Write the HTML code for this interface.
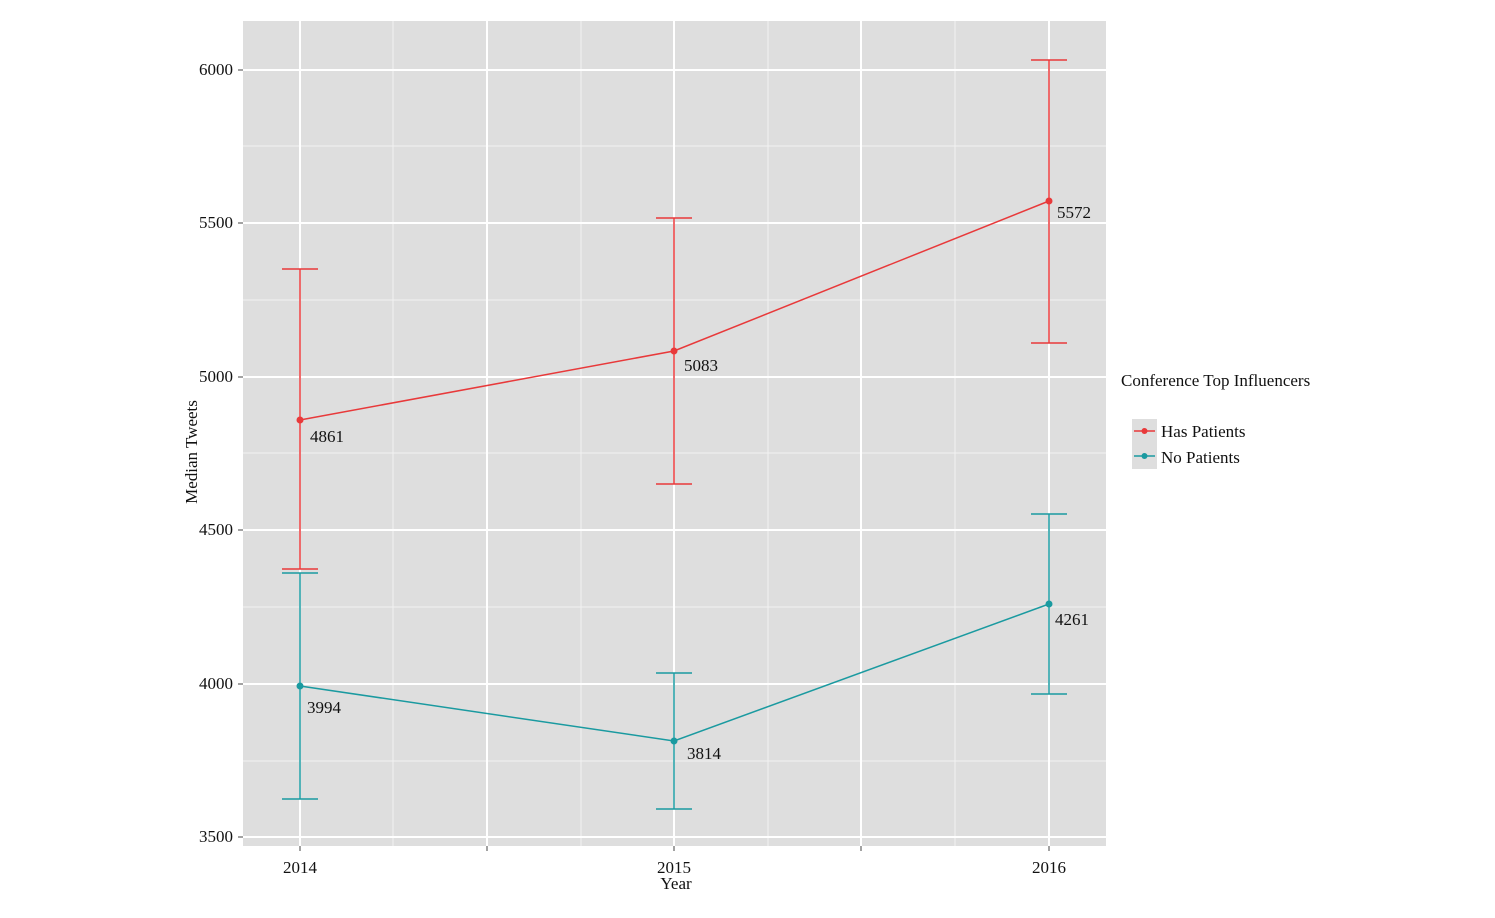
<!DOCTYPE html>
<html><head><meta charset="utf-8"><style>body{margin:0;background:#fff}</style></head><body>
<svg width="1495" height="913" xmlns="http://www.w3.org/2000/svg" font-family="Liberation Serif, serif">
<rect x="243" y="21" width="863" height="825" fill="#dedede"/>
<g stroke="#f2f2f2" stroke-width="1">
<line x1="243" x2="1106" y1="146" y2="146"/><line x1="243" x2="1106" y1="300" y2="300"/><line x1="243" x2="1106" y1="453" y2="453"/><line x1="243" x2="1106" y1="607" y2="607"/><line x1="243" x2="1106" y1="761" y2="761"/>
<line y1="21" y2="846" x1="393" x2="393"/><line y1="21" y2="846" x1="581" x2="581"/><line y1="21" y2="846" x1="768" x2="768"/><line y1="21" y2="846" x1="955" x2="955"/>
</g>
<g stroke="#fff" stroke-width="2">
<line x1="243" x2="1106" y1="70" y2="70"/><line x1="243" x2="1106" y1="223" y2="223"/><line x1="243" x2="1106" y1="377" y2="377"/><line x1="243" x2="1106" y1="530" y2="530"/><line x1="243" x2="1106" y1="684" y2="684"/><line x1="243" x2="1106" y1="837" y2="837"/>
<line y1="21" y2="846" x1="300" x2="300"/><line y1="21" y2="846" x1="487" x2="487"/><line y1="21" y2="846" x1="674" x2="674"/><line y1="21" y2="846" x1="861" x2="861"/><line y1="21" y2="846" x1="1049" x2="1049"/>
</g>
<g stroke="#444" stroke-width="1">
<line x1="238" x2="243" y1="70" y2="70"/><line x1="238" x2="243" y1="223" y2="223"/><line x1="238" x2="243" y1="377" y2="377"/><line x1="238" x2="243" y1="530" y2="530"/><line x1="238" x2="243" y1="684" y2="684"/><line x1="238" x2="243" y1="837" y2="837"/>
<line y1="846" y2="851" x1="300" x2="300"/><line y1="846" y2="851" x1="487" x2="487"/><line y1="846" y2="851" x1="674" x2="674"/><line y1="846" y2="851" x1="861" x2="861"/><line y1="846" y2="851" x1="1049" x2="1049"/>
</g>
<g font-size="17" fill="#111" text-anchor="end">
<text x="233" y="75">6000</text><text x="233" y="228">5500</text><text x="233" y="382">5000</text><text x="233" y="535">4500</text><text x="233" y="689">4000</text><text x="233" y="842">3500</text>
</g>
<g font-size="17" fill="#111" text-anchor="middle">
<text x="300" y="873">2014</text><text x="674" y="873">2015</text><text x="1049" y="873">2016</text>
<text x="676" y="889">Year</text>
<text transform="translate(197,452) rotate(-90)">Median Tweets</text>
</g>
<g stroke="#e8393a" stroke-width="1.5" fill="none">
<path d="M300 269V569M282 269H318M282 569H318"/>
<path d="M674 218V484M656 218H692M656 484H692"/>
<path d="M1049 60V343M1031 60H1067M1031 343H1067"/>
<polyline points="300,420 674,351 1049,201"/>
</g>
<g fill="#e8393a"><circle cx="300" cy="420" r="3.5"/><circle cx="674" cy="351" r="3.5"/><circle cx="1049" cy="201" r="3.5"/></g>
<g stroke="#1a9aa0" stroke-width="1.5" fill="none">
<path d="M300 573V799M282 573H318M282 799H318"/>
<path d="M674 673V809M656 673H692M656 809H692"/>
<path d="M1049 514V694M1031 514H1067M1031 694H1067"/>
<polyline points="300,686 674,741 1049,604"/>
</g>
<g fill="#1a9aa0"><circle cx="300" cy="686" r="3.5"/><circle cx="674" cy="741" r="3.5"/><circle cx="1049" cy="604" r="3.5"/></g>
<g font-size="17" fill="#111">
<text x="310" y="442">4861</text><text x="684" y="371">5083</text><text x="1057" y="218">5572</text>
<text x="307" y="713">3994</text><text x="687" y="759">3814</text><text x="1055" y="625">4261</text>
<text x="1121" y="386">Conference Top Influencers</text>
</g>
<rect x="1132" y="419" width="25" height="25" fill="#dedede"/>
<rect x="1132" y="444" width="25" height="25" fill="#dedede"/>
<line x1="1134" x2="1155" y1="431" y2="431" stroke="#e8393a" stroke-width="1.5"/><circle cx="1144.5" cy="431" r="3" fill="#e8393a"/>
<line x1="1134" x2="1155" y1="456" y2="456" stroke="#1a9aa0" stroke-width="1.5"/><circle cx="1144.5" cy="456" r="3" fill="#1a9aa0"/>
<g font-size="17" fill="#111"><text x="1161" y="437">Has Patients</text><text x="1161" y="463">No Patients</text></g>
</svg>
</body></html>
